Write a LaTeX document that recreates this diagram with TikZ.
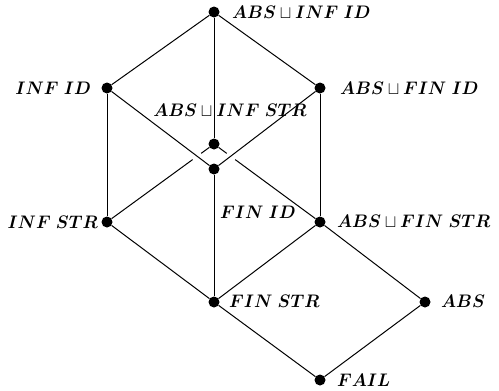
\documentclass[tikz,border=0pt]{standalone}
\usepackage{bm}
\usepackage{graphicx}
\usetikzlibrary{calc}
\newcommand{\lt}[1]{\scalebox{1}[1.05]{$#1$}}
\begin{document}
\begin{tikzpicture}[x=1pt,y=-1pt,
  dot/.style={circle,fill=black,inner sep=0pt,minimum size=11pt},
  lbl/.style={inner sep=0pt,font=\fontsize{17.28}{20}\selectfont},
  edge/.style={line width=1pt}]
\useasboundingbox (0,0) rectangle (499,391);
% elements
\node[dot] (top) at (214,12) {};
\node[dot] (infid) at (107,88) {};
\node[dot] (absfinid) at (320,88) {};
\node[dot] (absinfstr) at (214,144) {};
\node[dot] (finid) at (214,169) {};
\node[dot] (infstr) at (107,222) {};
\node[dot] (absfinstr) at (320,222) {};
\node[dot] (finstr) at (214,302) {};
\node[dot] (abs) at (425,302) {};
\node[dot] (fail) at (320,380) {};
% labels
\node[lbl,anchor=west] (ltop) at (232,12) {\lt{\bm{ABS}\sqcup\bm{INF\ ID}}};
\node[lbl,anchor=west] (labsfinid) at (340,88) {\lt{\bm{ABS}\sqcup\bm{FIN\ ID}}};
\node[lbl,anchor=east] (linfid) at (91,88) {\lt{\bm{INF\ ID}}};
\node[lbl] (labsinfstr) at (230,110) {\lt{\bm{ABS}\sqcup\bm{INF\ STR}}};
\node[lbl,anchor=west] (lfinid) at (220,212) {\lt{\bm{FIN\ ID}}};
\node[lbl,anchor=east] (linfstr) at (98,222) {\lt{\bm{INF\ STR}}};
\node[lbl,anchor=west] (labsfinstr) at (337,221) {\lt{\bm{ABS}\sqcup\bm{FIN\ STR}}};
\node[lbl,anchor=west] (lfinstr) at (229,301) {\lt{\bm{FIN\ STR}}};
\node[lbl,anchor=west] (labs) at (441,301) {\lt{\bm{ABS}}};
\node[lbl,anchor=west] (lfail) at (337,380) {\lt{\bm{FAIL}}};
% edges
\draw[edge] (top) -- (infid);
\draw[edge] (top) -- (absfinid);
\draw[edge] (top) -- (absinfstr);
\draw[edge] (infid) -- (infstr);
\draw[edge] (infid) -- (finid);
\draw[edge] (absfinid) -- (finid);
\draw[edge] (absfinid) -- (absfinstr);
\draw[edge] (absinfstr) -- ($(absinfstr)!0.12!(infstr)$);
\draw[edge] ($(absinfstr)!0.2!(infstr)$) -- (infstr);
\draw[edge] (absinfstr) -- ($(absinfstr)!0.12!(absfinstr)$);
\draw[edge] ($(absinfstr)!0.2!(absfinstr)$) -- (absfinstr);
\draw[edge] (finid) -- (finstr);
\draw[edge] (infstr) -- (finstr);
\draw[edge] (absfinstr) -- (finstr);
\draw[edge] (absfinstr) -- (abs);
\draw[edge] (finstr) -- (fail);
\draw[edge] (abs) -- (fail);
\end{tikzpicture}
\end{document}
